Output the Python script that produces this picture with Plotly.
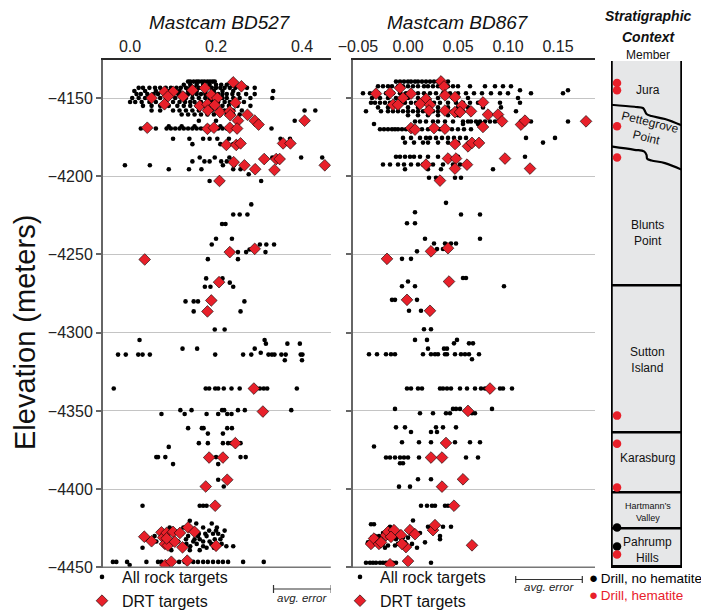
import plotly.graph_objects as go

# ---------------- data ----------------
# Mastcam BD527, all rock targets: (elevation m, [BD527 values])
rows_bd527 = [
    (-4139.5, [0.135, 0.14, 0.148, 0.155, 0.16, 0.167, 0.173, 0.18, 0.186, 0.192, 0.197]),
    (-4141.5, [0.125, 0.14, 0.155, 0.17, 0.185, 0.2, 0.212, 0.225, 0.24]),
    (-4143.5, [0.02, 0.03, 0.045, 0.058, 0.07, 0.083, 0.095, 0.108, 0.118, 0.13, 0.14, 0.15, 0.16, 0.17,
               0.18, 0.19, 0.2, 0.21, 0.22, 0.232, 0.245, 0.26, 0.272, 0.29]),
    (-4145.5, [0.01, 0.035, 0.06, 0.09, 0.115, 0.135, 0.155, 0.175, 0.195, 0.215, 0.24, 0.333]),
    (-4147.5, [0.015, 0.025, 0.04, 0.055, 0.065, 0.08, 0.1, 0.112, 0.125, 0.135, 0.145, 0.155, 0.165, 0.175,
               0.185, 0.195, 0.205, 0.215, 0.225, 0.238, 0.252, 0.27, 0.29]),
    (-4150.0, [0.005, 0.02, 0.035, 0.05, 0.07, 0.09, 0.105, 0.12, 0.13, 0.145, 0.16, 0.175, 0.185, 0.2,
               0.215, 0.225, 0.24, 0.255, 0.28, 0.331]),
    (-4152.5, [0.0, 0.012, 0.027, 0.045, 0.06, 0.08, 0.1, 0.115, 0.128, 0.14, 0.15, 0.165, 0.18, 0.19,
               0.205, 0.22, 0.232, 0.245, 0.265]),
    (-4155.0, [0.03, 0.05, 0.07, 0.09, 0.11, 0.125, 0.14, 0.155, 0.17, 0.185, 0.2, 0.215, 0.23, 0.25, 0.28]),
    (-4158.0, [0.05, 0.07, 0.1, 0.115, 0.13, 0.145, 0.16, 0.175, 0.19, 0.205, 0.22, 0.24, 0.26, 0.406, 0.431]),
    (-4160.5, [0.12, 0.135, 0.15, 0.165, 0.18, 0.195, 0.21, 0.225, 0.24, 0.255]),
    (-4164.5, [0.16, 0.2, 0.383]),
    (-4168.0, [0.04, 0.09, 0.12, 0.15, 0.18, 0.21]),
    (-4169.5, [0.025, 0.06, 0.085, 0.095, 0.105, 0.115, 0.125, 0.135, 0.145, 0.155, 0.165, 0.175, 0.185,
               0.195, 0.205, 0.215, 0.225, 0.329]),
    (-4176.0, [0.1, 0.138, 0.17, 0.185, 0.203, 0.23, 0.35, 0.372]),
    (-4179.5, [0.145, 0.21, 0.24]),
    (-4188.0, [0.162, 0.197, 0.231, 0.331, 0.398, 0.447]),
    (-4190.5, [0.145, 0.173, 0.185, 0.212, 0.225]),
    (-4193.0, [-0.012, 0.046, 0.216, 0.242]),
    (-4195.5, [0.09, 0.137, 0.166, 0.24, 0.257]),
    (-4198.7, [0.276]),
    (-4203.0, [0.185, 0.305]),
    (-4218.0, [0.282]),
    (-4224.5, [0.24, 0.255, 0.273]),
    (-4230.5, [0.214, 0.222]),
    (-4240.0, [0.2, 0.237]),
    (-4243.6, [0.19, 0.302, 0.317, 0.335]),
    (-4246.8, [0.278]),
    (-4248.5, [0.251, 0.27, 0.315]),
    (-4253.0, [0.181, 0.251]),
    (-4265.3, [0.177, 0.215]),
    (-4268.0, [0.232]),
    (-4270.6, [0.174, 0.187, 0.24]),
    (-4280.0, [0.129, 0.148, 0.158, 0.266]),
    (-4286.4, [0.148, 0.257]),
    (-4298.0, [0.197, 0.22]),
    (-4304.7, [0.022, 0.313]),
    (-4307.0, [0.316, 0.366, 0.395]),
    (-4310.2, [0.122, 0.156, 0.29]),
    (-4312.8, [0.304]),
    (-4314.0, [-0.028, -0.01, 0.019, 0.029, 0.046, 0.198, 0.263, 0.282, 0.322, 0.33, 0.336, 0.352, 0.362,
               0.397, 0.401]),
    (-4317.6, [0.36, 0.4]),
    (-4335.7, [-0.038, 0.176, 0.184, 0.198, 0.205, 0.218, 0.236, 0.255, 0.302, 0.311, 0.319, 0.388]),
    (-4349.5, [0.117, 0.143, 0.214, 0.219, 0.251, 0.267, 0.375]),
    (-4352.0, [0.073, 0.127, 0.178, 0.205, 0.226, 0.236]),
    (-4361.0, [0.135, 0.167, 0.171, 0.226, 0.237]),
    (-4364.5, [0.181, 0.216]),
    (-4370.6, [0.16, 0.181, 0.216, 0.228, 0.236, 0.257]),
    (-4373.0, [0.09]),
    (-4379.5, [0.061, 0.065, 0.082, 0.2, 0.257, 0.269]),
    (-4384.0, [0.1, 0.205]),
    (-4394.0, [0.205]),
    (-4398.3, [0.218]),
    (-4410.6, [0.029, 0.162, 0.17, 0.178]),
    (-4420.2, [0.139]),
    (-4422.0, [0.154, 0.19]),
    (-4424.5, [0.092, 0.124, 0.17, 0.202]),
    (-4426.5, [0.145, 0.184, 0.22, 0.2]),
    (-4428.5, [0.12, 0.16, 0.175, 0.193, 0.205]),
    (-4430.0, [0.057, 0.135, 0.158, 0.178, 0.215]),
    (-4432.0, [0.038, 0.13, 0.15, 0.162, 0.197, 0.21]),
    (-4433.5, [0.061, 0.112, 0.147, 0.17, 0.185]),
    (-4435.0, [0.131, 0.155, 0.189, 0.213, 0.2]),
    (-4436.5, [0.14, 0.17, 0.224, 0.24]),
    (-4437.5, [0.029, 0.178, 0.195]),
    (-4439.0, [0.096, 0.139, 0.162]),
    (-4446.5, [-0.04, -0.032, -0.007, 0.038, 0.065, 0.073, 0.114, 0.127, 0.147, 0.158, 0.17, 0.181, 0.193,
               0.205, 0.216, 0.228, 0.263, 0.311]),
    (-4448.5, [-0.001]),
]

# Mastcam BD527, DRT targets
drt_bd527_x = [0.24, 0.259, 0.08, 0.1, 0.145, 0.174, 0.05, 0.088, 0.123, 0.189, 0.203, 0.08, 0.162, 0.18,
               0.197, 0.245, 0.181, 0.209, 0.232, 0.233, 0.273, 0.251, 0.29, 0.299, 0.406, 0.04, 0.18, 0.195,
               0.232, 0.249, 0.224, 0.247, 0.257, 0.356, 0.373, 0.241, 0.266, 0.291, 0.312, 0.34, 0.348,
               0.336, 0.453, 0.208, 0.232, 0.29, 0.034, 0.207, 0.189, 0.18, 0.288, 0.309, 0.245, 0.184,
               0.216, 0.226, 0.176, 0.198, 0.033, 0.05, 0.073, 0.077, 0.085, 0.1, 0.116, 0.135, 0.15, 0.081,
               0.088, 0.104, 0.122, 0.2, 0.085, 0.082, 0.096, 0.133]
drt_bd527_elev = [-4140, -4142.5, -4146, -4146, -4145, -4143.6, -4150, -4149, -4149, -4148, -4150, -4154,
                  -4155, -4154, -4154.5, -4153, -4158, -4159, -4158.5, -4161, -4160.7, -4164.5, -4164.5,
                  -4167, -4164.5, -4169, -4169.7, -4169, -4169, -4169.5, -4180, -4180, -4179, -4179, -4179,
                  -4191, -4193, -4195.5, -4189, -4189, -4189, -4196, -4193, -4203, -4248.5, -4246.4,
                  -4253.2, -4267.7, -4279.4, -4286.4, -4335.7, -4350.4, -4370.6, -4379.8, -4379.8, -4394,
                  -4398.3, -4410.6, -4430.4, -4433.3, -4427.6, -4430.9, -4428, -4427.3, -4428, -4424.5,
                  -4427.3, -4435, -4436, -4433.6, -4437.2, -4436.2, -4431.5, -4448.5, -4446.4, -4445.7]

# Mastcam BD867, all rock targets: (elevation m, [BD867 values])
rows_bd867 = [
    (-4139.5, [-0.012, -0.008, -0.004, 0.0, 0.003, 0.007, 0.01, 0.014, 0.018, 0.022, 0.026, 0.03, 0.04]),
    (-4142.5, [-0.03, -0.025, -0.02, -0.016, -0.01, -0.005, 0.0, 0.005, 0.01, 0.016, 0.02, 0.025, 0.03,
               0.035, 0.04, 0.045, 0.05, 0.062, 0.077, 0.087, 0.095, 0.103]),
    (-4145.0, [0.112, 0.16]),
    (-4147.0, [-0.045, -0.038, -0.03, -0.022, -0.015, -0.008, -0.002, 0.004, 0.01, 0.016, 0.022, 0.028,
               0.035, 0.042, 0.05, 0.058, 0.066, 0.074, 0.083, 0.092, 0.1, 0.123, 0.155]),
    (-4150.0, [-0.036, -0.028, -0.02, -0.012, 0.0, 0.01, 0.02, 0.03, 0.045, 0.06, 0.11]),
    (-4153.0, [-0.037, -0.033, -0.028, -0.023, -0.018, -0.013, -0.008, -0.003, 0.003, 0.008, 0.014, 0.02,
               0.026, 0.032, 0.04, 0.048, 0.055, 0.062, 0.07, 0.092, 0.112]),
    (-4156.0, [-0.03, -0.02, -0.01, 0.0, 0.01, 0.02, 0.03, 0.04, 0.05, 0.06, 0.075, 0.093]),
    (-4158.5, [-0.042, -0.027, -0.02, -0.015, -0.01, -0.005, 0.0, 0.005, 0.01, 0.015, 0.02, 0.025, 0.03,
               0.038, 0.045, 0.055, 0.065, 0.108]),
    (-4161.0, [0.0, 0.01, 0.02, 0.03, 0.04, 0.05]),
    (-4165.0, [0.007, 0.012, 0.018, 0.025, 0.03, 0.037, 0.045, 0.055, 0.06, 0.063, 0.068, 0.072, 0.077,
               0.082, 0.087, 0.113, 0.123, 0.16]),
    (-4166.6, [-0.034, 0.055, 0.07]),
    (-4170.0, [-0.028, -0.024, -0.02, -0.016, -0.013, -0.01, -0.006, -0.002, 0.002, 0.008, 0.014, 0.02,
               0.026, 0.032, 0.038, 0.044, 0.05, 0.056, 0.063]),
    (-4175.5, [-0.005, 0.003, 0.012, 0.018, 0.022, 0.028, 0.034, 0.04, 0.046, 0.052, 0.058, 0.118, 0.147]),
    (-4178.5, [-0.003, 0.006, 0.015, 0.02, 0.03, 0.04, 0.05, 0.065, 0.073, 0.135]),
    (-4187.5, [-0.012, -0.008, -0.003, 0.002, 0.006, 0.012, 0.02, 0.03, 0.04, 0.05, 0.117]),
    (-4192.5, [-0.025, -0.018, -0.01, -0.004, 0.003, 0.01, 0.015, 0.025, 0.035, 0.045, 0.052]),
    (-4195.5, [-0.003, 0.02, 0.033, 0.085]),
    (-4201.0, [0.021, 0.028, 0.047, 0.053]),
    (-4217.0, [0.038]),
    (-4223.0, [0.007]),
    (-4224.5, [0.053, 0.072]),
    (-4230.0, [-0.001, 0.007]),
    (-4240.0, [0.017, 0.072]),
    (-4243.0, [0.026, 0.037, 0.043, 0.048]),
    (-4246.5, [0.029, 0.035]),
    (-4248.0, [0.009]),
    (-4252.8, [-0.006, 0.003]),
    (-4265.0, [0.055, 0.058]),
    (-4267.3, [0.0]),
    (-4270.3, [-0.006, 0.007, 0.096]),
    (-4279.0, [-0.016, -0.013, 0.009]),
    (-4286.0, [0.001, 0.013]),
    (-4297.8, [0.016, 0.023]),
    (-4304.6, [0.007, 0.019, 0.049]),
    (-4306.8, [0.046, 0.061, 0.065]),
    (-4310.2, [0.02, 0.036, 0.039]),
    (-4313.8, [-0.039, -0.031, -0.022, -0.017, -0.013, 0.015, 0.023, 0.027, 0.03, 0.037, 0.039, 0.047,
               0.053, 0.057, 0.061, 0.071]),
    (-4317.0, [0.064]),
    (-4335.7, [-0.001, 0.003, 0.01, 0.014, 0.032, 0.035, 0.039, 0.043, 0.052, 0.059, 0.067, 0.073, 0.077,
               0.092, 0.095, 0.104]),
    (-4348.7, [-0.013, 0.045, 0.048, 0.052, 0.084]),
    (-4351.5, [0.012, 0.025, 0.038, 0.042, 0.064, 0.067]),
    (-4360.5, [-0.012, -0.003, 0.028, 0.035, 0.048]),
    (-4363.5, [0.003, 0.023, 0.029]),
    (-4370.0, [-0.006, 0.011, 0.023, 0.047, 0.062, 0.072]),
    (-4372.7, [-0.034]),
    (-4379.8, [-0.022, -0.018, -0.013, -0.008, -0.004, 0.0, 0.011, 0.058, 0.07]),
    (-4383.4, [-0.008, -0.005]),
    (-4393.7, [0.01, 0.023]),
    (-4398.4, [-0.009, 0.002]),
    (-4410.6, [0.013, 0.019, 0.024, 0.027, 0.037, 0.04]),
    (-4420.0, [0.005]),
    (-4422.4, [-0.037, -0.034]),
    (-4424.0, [-0.018, 0.02, 0.035, 0.043]),
    (-4426.0, [-0.017, 0.002]),
    (-4428.0, [-0.025, 0.012, -0.007]),
    (-4430.0, [-0.033, -0.01, 0.032, -0.029]),
    (-4431.0, [-0.036, -0.03, -0.02, -0.015, -0.005, 0.0]),
    (-4432.0, [-0.027, 0.032, -0.012]),
    (-4434.0, [-0.003, 0.017, -0.04, -0.007]),
    (-4435.0, [-0.034, -0.025, -0.01, 0.004]),
    (-4436.0, [-0.02, -0.013]),
    (-4437.5, [0.009, -0.023]),
    (-4447.0, [-0.042, -0.038, -0.035, -0.032, -0.028, -0.025, -0.022, -0.018, -0.015, -0.012, 0.023]),
]

# Mastcam BD867, DRT targets
drt_bd867_x = [0.033, 0.036, -0.032, -0.018, -0.008, 0.003, -0.005, 0.018, 0.037, 0.047, -0.015, -0.01,
               0.012, 0.022, 0.054, 0.075, 0.021, 0.037, 0.047, 0.052, 0.063, 0.08, 0.09, 0.094, 0.113,
               0.117, 0.178, 0.003, 0.007, 0.026, 0.037, 0.075, 0.047, 0.06, 0.064, 0.071, 0.04, 0.048,
               0.018, 0.047, 0.059, 0.097, 0.122, 0.032, 0.023, 0.04, -0.021, 0.041, -0.001, 0.022, 0.082,
               0.06, 0.038, 0.023, 0.034, 0.055, 0.034, 0.046, -0.037, -0.034, -0.029, -0.022, -0.02,
               -0.014, -0.007, -0.002, 0.002, 0.007, 0.025, 0.027, -0.006, 0.064, -0.027, -0.017, -0.018,
               0.0]
drt_bd867_elev = [-4139.4, -4142.6, -4147.2, -4146.8, -4143.6, -4147.2, -4150, -4150.6, -4148.3, -4149.4,
                  -4154.3, -4154.3, -4153.8, -4154.3, -4154.9, -4152.8, -4158, -4158, -4159, -4159,
                  -4158.5, -4160.6, -4160.6, -4164.9, -4167, -4164.5, -4164.9, -4169.2, -4170.2, -4169.2,
                  -4169.6, -4168.5, -4179.4, -4180.9, -4178.7, -4178.7, -4188.7, -4188.7, -4192.6,
                  -4195.1, -4192.6, -4188.7, -4195.1, -4202.8, -4248, -4246, -4252.8, -4267.3, -4279,
                  -4286, -4335.7, -4350, -4370.5, -4379.8, -4379.8, -4393.7, -4398.4, -4410.6, -4435,
                  -4431.6, -4435, -4429.4, -4427.3, -4426.2, -4429.4, -4437, -4426.2, -4428.8, -4426.2,
                  -4423, -4435, -4435.9, -4434, -4430.5, -4448, -4446]

avg_error_bd527 = 0.134
avg_error_bd867 = 0.0666

# Stratigraphic column
member_names = ["Jura", "Pettegrove<br>Point", "Blunts<br>Point", "Sutton<br>Island", "Karasburg",
                "Hartmann\u2019s<br>Valley", "Pahrump<br>Hills"]
member_label_elev = [-4144.9, -4170.5, -4236.4, -4317.3, -4380.3, -4414.8, -4439.1]
flat_contacts_elev = [-4269.6, -4363.7, -4402.0, -4425.0]
column_top_elev = -4126.3
column_base_elev = -4449.5
wavy1_x = [0.0, 0.33, 0.45, 0.475, 0.5, 0.57, 0.76, 1.0]
wavy1_elev = [-4154.3, -4155.6, -4156.4, -4158.1, -4160.2, -4161.5, -4163.4, -4167.5]
wavy2_x = [0.0, 0.33, 0.465, 0.5, 0.51, 0.57, 0.76, 1.0]
wavy2_elev = [-4180.9, -4183.1, -4184.1, -4186.3, -4188.8, -4189.9, -4191.6, -4195.9]
drill_hem_elev = [-4140.4, -4145.0, -4168.0, -4188.0, -4353.0, -4371.0, -4399.0, -4441.7]
drill_nohem_elev = [-4424.5, -4436.6]

y_ticks = [-4450, -4400, -4350, -4300, -4250, -4200, -4150]
x1_ticks = [0.0, 0.2, 0.4]
x1_ticktext = ["0.0", "0.2", "0.4"]
x2_ticks = [-0.05, 0.0, 0.05, 0.10, 0.15]
x2_ticktext = ["\u22120.05", "0.00", "0.05", "0.10", "0.15"]

# ---------------- styling ----------------
W, H = 709, 610
FONT = "Liberation Sans, Arial, sans-serif"
RED = "#e8202a"
GRID = "#c4c4c4"
Y_RANGE = [-4450.4, -4125.7]
Y_DOMAIN = [50 / H, 558 / H]


def px_x(p):
    return p / W


def px_y(p):
    return (H - p) / H


def flatten(rows):
    xs, es = [], []
    for e, vals in rows:
        for v in vals:
            xs.append(v)
            es.append(e)
    return xs, es


r527_x, r527_e = flatten(rows_bd527)
r867_x, r867_e = flatten(rows_bd867)

fig = go.Figure()

rock_marker = dict(color="black", size=4.6)
drt_marker = dict(color=RED, size=9, symbol="diamond", line=dict(color="black", width=0.6))

fig.add_trace(go.Scatter(x=r527_x, y=r527_e, mode="markers", marker=rock_marker,
                         name="All rock targets", xaxis="x", yaxis="y", legend="legend"))
fig.add_trace(go.Scatter(x=drt_bd527_x, y=drt_bd527_elev, mode="markers", marker=drt_marker,
                         name="DRT targets", xaxis="x", yaxis="y", legend="legend"))
fig.add_trace(go.Scatter(x=r867_x, y=r867_e, mode="markers", marker=rock_marker,
                         name="All rock targets", xaxis="x2", yaxis="y2", legend="legend2"))
fig.add_trace(go.Scatter(x=drt_bd867_x, y=drt_bd867_elev, mode="markers", marker=drt_marker,
                         name="DRT targets", xaxis="x2", yaxis="y2", legend="legend2"))

# wavy contacts in column
for wx, we in [(wavy1_x, wavy1_elev), (wavy2_x, wavy2_elev)]:
    fig.add_trace(go.Scatter(x=wx, y=we, mode="lines", line=dict(color="black", width=2.2, shape="spline"),
                             xaxis="x3", yaxis="y3", showlegend=False, hoverinfo="skip"))

fig.add_trace(go.Scatter(x=[0.085] * len(drill_nohem_elev), y=drill_nohem_elev, mode="markers",
                         marker=dict(color="black", size=8.5), xaxis="x3", yaxis="y3", showlegend=False))
fig.add_trace(go.Scatter(x=[0.085] * len(drill_hem_elev), y=drill_hem_elev, mode="markers",
                         marker=dict(color=RED, size=8.5), xaxis="x3", yaxis="y3", showlegend=False))

xa_common = dict(side="top", showline=True, linecolor="#2a2a2a", linewidth=1.5, ticks="",
                 showgrid=False, zeroline=False, tickfont=dict(size=16, color="#222"),
                 automargin=False, fixedrange=True)
ya_common = dict(range=Y_RANGE, domain=Y_DOMAIN, tickvals=y_ticks, showgrid=True, gridcolor=GRID,
                 gridwidth=1.2, zeroline=False, showline=True, linecolor="#666", linewidth=2,
                 ticks="outside", ticklen=5, tickwidth=1.5, tickcolor="#666", automargin=False)

shapes = []
# bottom axis lines
for xr in ["x domain", "x2 domain"]:
    shapes.append(dict(type="line", xref=xr, yref="y", x0=0, x1=1, y0=-4450, y1=-4450,
                       line=dict(color="#777", width=1.5)))

# column body
shapes.append(dict(type="rect", xref="x3", yref="y", x0=0, x1=1, y0=column_base_elev, y1=column_top_elev,
                   fillcolor="#e6e7e8", line=dict(width=0), layer="below"))
for e in flat_contacts_elev:
    shapes.append(dict(type="line", xref="x3", yref="y", x0=0, x1=1, y0=e, y1=e,
                       line=dict(color="black", width=2.5), layer="below"))
shapes.append(dict(type="line", xref="x3", yref="y", x0=0, x1=1, y0=column_base_elev, y1=column_base_elev,
                   line=dict(color="black", width=3), layer="below"))
for xv in [0, 1]:
    shapes.append(dict(type="line", xref="x3", yref="y", x0=xv, x1=xv, y0=column_base_elev,
                       y1=column_top_elev, line=dict(color="black", width=3.5), layer="below"))

# avg error bars
err_specs = [("x", 0.4677, avg_error_bd527, px_y(581), px_y(577), px_y(585), px_y(590)),
             ("x2", 0.1743, avg_error_bd867, px_y(571.5), px_y(568), px_y(575), px_y(578.5))]
annotations = []
for xr, xend, err, yb, yc0, yc1, yt in err_specs:
    xs = xend - err
    shapes.append(dict(type="line", xref=xr, yref="paper", x0=xs, x1=xend, y0=yb, y1=yb,
                       line=dict(color="#333", width=1.2)))
    for xv in (xs, xend):
        shapes.append(dict(type="line", xref=xr, yref="paper", x0=xv, x1=xv, y0=yc0, y1=yc1,
                           line=dict(color="#333", width=1.2)))
    annotations.append(dict(text="<i>avg. error</i>", xref=xr, yref="paper", x=(xs + xend) / 2, y=yt,
                            showarrow=False, font=dict(size=11.5, color="#222"), xanchor="center",
                            yanchor="middle"))

DOT = '<span style="font-size:15px">\u25CF</span>\u2009'
# titles
annotations += [
    dict(text="<i>Mastcam BD527</i>", x=px_x(212), y=px_y(14), xref="paper", yref="paper",
         showarrow=False, font=dict(size=19, color="#111"), xanchor="center", yanchor="middle"),
    dict(text="<i>Mastcam BD867</i>", x=px_x(450), y=px_y(14), xref="paper", yref="paper",
         showarrow=False, font=dict(size=19, color="#111"), xanchor="center", yanchor="middle"),
    dict(text="<b><i>Stratigraphic</i></b>", x=px_x(640), y=px_y(8), xref="paper", yref="paper",
         showarrow=False, font=dict(size=14, color="#111"), xanchor="center", yanchor="middle"),
    dict(text="<b><i>Context</i></b>", x=px_x(640), y=px_y(29), xref="paper", yref="paper",
         showarrow=False, font=dict(size=14, color="#111"), xanchor="center", yanchor="middle"),
    dict(text="Member", x=px_x(640), y=px_y(47), xref="paper", yref="paper",
         showarrow=False, font=dict(size=12, color="#111"), xanchor="center", yanchor="middle"),
    dict(text="Elevation (meters)", x=px_x(17), y=px_y(325), xref="paper", yref="paper",
         showarrow=False, textangle=-90, font=dict(size=29, color="#111"), xanchor="center",
         yanchor="middle"),
    dict(text=DOT + "Drill, no hematite", x=px_x(580), y=px_y(569), xref="paper", yref="paper",
         showarrow=False, font=dict(size=13.5, color="black"), xanchor="left", yanchor="middle",
         borderpad=0),
    dict(text=DOT + "Drill, hematite", x=px_x(580), y=px_y(586), xref="paper", yref="paper",
         showarrow=False, font=dict(size=13.5, color=RED), xanchor="left", yanchor="middle",
         borderpad=0),
]
for name, e in zip(member_names, member_label_elev):
    small = "Hartmann" in name
    annotations.append(dict(text=name, x=0.52, y=e, xref="x3", yref="y", showarrow=False,
                            textangle=14 if "Pettegrove" in name else 0,
                            font=dict(size=9 if small else 12, color="#111"),
                            xanchor="center", yanchor="middle"))

legend_common = dict(font=dict(size=16, color="#111"), bgcolor="rgba(0,0,0,0)", borderwidth=0,
                     tracegroupgap=0, xanchor="left", yanchor="top", orientation="v")

fig.update_layout(
    width=W, height=H,
    margin=dict(l=0, r=0, t=0, b=0, autoexpand=False),
    paper_bgcolor="white", plot_bgcolor="white",
    font=dict(family=FONT, color="#111"),
    xaxis=dict(domain=[95 / W, 322.8 / W], range=[-0.063, 0.467], tickvals=x1_ticks,
               ticktext=x1_ticktext, anchor="y", **xa_common),
    xaxis2=dict(domain=[345 / W, 587 / W], range=[-0.055, 0.187], tickvals=x2_ticks,
                ticktext=x2_ticktext, anchor="y2", **xa_common),
    xaxis3=dict(domain=[603 / W, 674 / W], range=[0, 1], visible=False, anchor="y3", fixedrange=True),
    yaxis=dict(anchor="x", ticktext=["\u2212%d" % abs(v) for v in y_ticks],
               tickfont=dict(size=16, color="#222"), **ya_common),
    yaxis2=dict(anchor="x2", matches="y", showticklabels=False, **ya_common),
    yaxis3=dict(anchor="x3", matches="y", domain=Y_DOMAIN, range=Y_RANGE, visible=False),
    legend=dict(x=px_x(74), y=px_y(552), **legend_common),
    legend2=dict(x=px_x(332), y=px_y(552), **legend_common),
    shapes=shapes,
    annotations=annotations,
    showlegend=True,
)

fig.write_html("out.html")
